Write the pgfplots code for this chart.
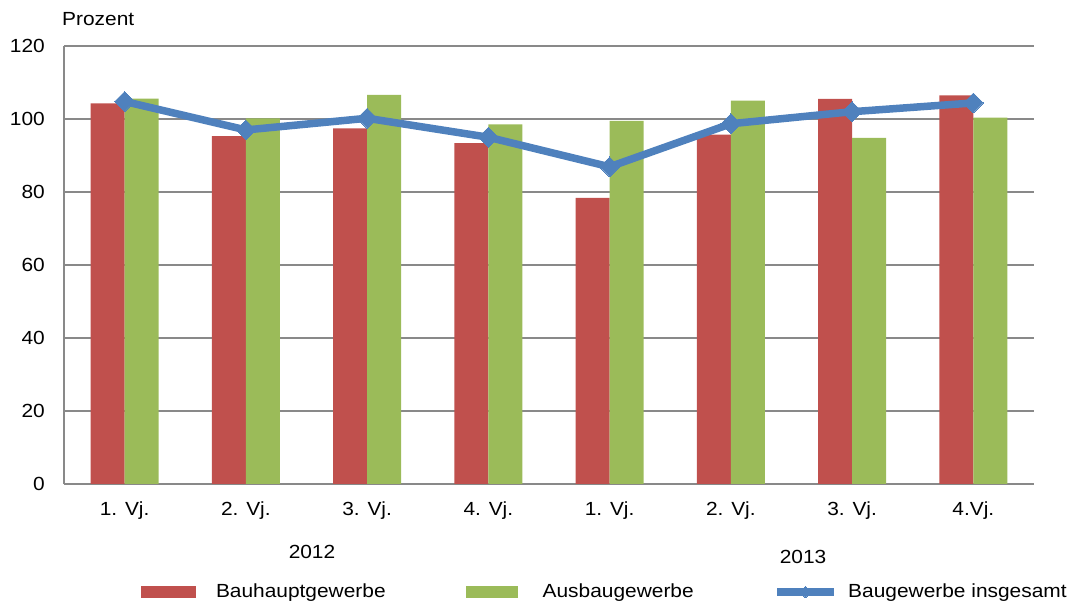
\documentclass[border=0pt]{standalone}
\usepackage{pgfplots}
\pgfplotsset{compat=1.18}
\usepackage{fontspec}
\setmainfont[FakeStretch=1.1]{Liberation Sans}
\definecolor{cred}{HTML}{C0504D}
\definecolor{cgreen}{HTML}{9BBB59}
\definecolor{cblue}{HTML}{4F81BD}
\definecolor{cgrid}{HTML}{898989}
\pgfplotsset{lineleg/.style={legend image code/.code={\draw[##1, mark size=4bp, mark repeat=2, mark phase=2] plot coordinates {(0bp,0bp) (28bp,0bp) (57bp,0bp)};}}}
\begin{document}
\fontsize{19bp}{22bp}\selectfont
\begin{tikzpicture}
\useasboundingbox (0,0) rectangle (1072bp,608bp);
\begin{axis}[
  at={(64bp,124bp)}, anchor=south west,
  scale only axis, width=970bp, height=438bp,
  xmin=-0.5, xmax=7.5, ymin=0, ymax=120,
  xtick={0,...,7},
  xticklabels={1. Vj.,2. Vj.,3. Vj.,4. Vj.,1. Vj.,2. Vj.,3. Vj.,4.Vj.},
  ytick={0,20,...,120},
  major tick length=0pt,
  axis x line*=bottom, axis y line*=left,
  axis line style={cgrid, line width=1.4bp},
  ymajorgrids, grid style={cgrid, line width=1.4bp},
  /pgf/number format/assume math mode=true,
  yticklabel style={inner sep=0pt, anchor=east, xshift=-19bp},
  xticklabel style={inner sep=0pt, anchor=north, yshift=-18bp},
  legend columns=3,
  legend style={at={(0.0794,-0.2466)}, anchor=west, draw=none, fill=none,
    inner sep=0pt, outer sep=0pt, nodes={inner sep=0pt, anchor=west},
    /tikz/every odd column/.append style={column sep=20bp},
    /tikz/every even column/.append style={column sep=80bp}},
]
\addplot[ybar, bar width=34bp, bar shift=-17bp, fill=cred, draw=none,
  legend image code/.code={\fill[cred] (0bp,-6bp) rectangle (55bp,6bp);}]
  coordinates {(0,104.3) (1,95.3) (2,97.4) (3,93.4) (4,78.4) (5,95.7) (6,105.5) (7,106.5)};
\addlegendentry{Bauhauptgewerbe}
\addplot[ybar, bar width=34bp, bar shift=17bp, fill=cgreen, draw=none,
  legend image code/.code={\fill[cgreen] (0bp,-6bp) rectangle (52bp,6bp);}]
  coordinates {(0,105.6) (1,100.2) (2,106.6) (3,98.5) (4,99.5) (5,105.0) (6,94.8) (7,100.4)};
\addlegendentry{\hspace{5bp}Ausbaugewerbe}
\addplot[cblue, line width=7.5bp, mark=square*, mark size=7bp, mark options={rotate=45, line width=0pt}, lineleg]
  coordinates {(0,104.8) (1,97.0) (2,100.2) (3,95.0) (4,86.9) (5,98.7) (6,102.0) (7,104.4)};
\addlegendentry{\hspace{-10bp}Baugewerbe insgesamt}
\end{axis}
\node[anchor=west, inner sep=0pt] at (62bp,589bp) {Prozent};
\node[inner sep=0pt] at (312bp,56bp) {2012};
\node[inner sep=0pt] at (803bp,51bp) {2013};
\end{tikzpicture}
\end{document}
